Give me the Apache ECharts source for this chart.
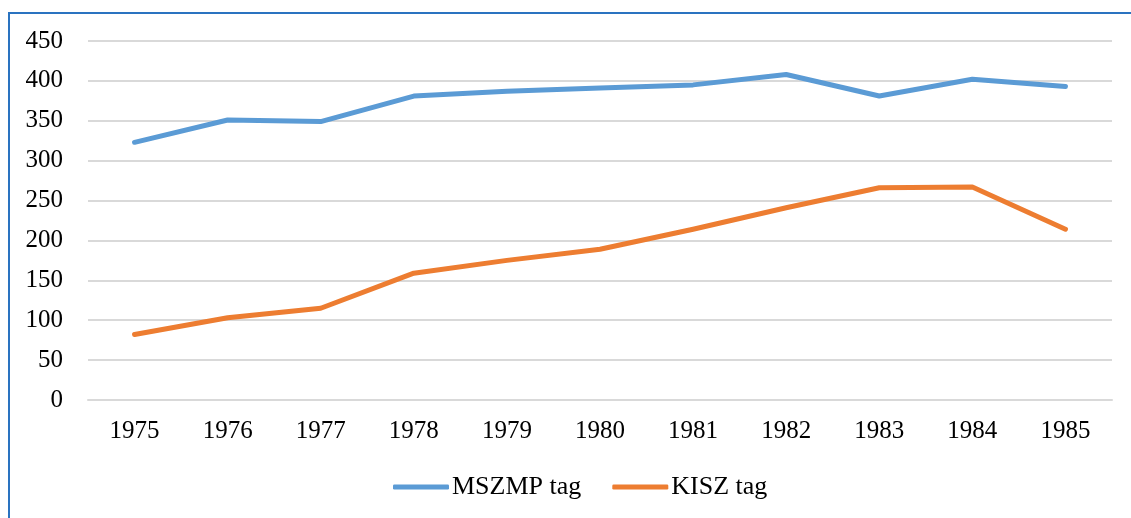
<!DOCTYPE html>
<html>
<head>
<meta charset="utf-8">
<script src="https://cdn.jsdelivr.net/npm/echarts@6/dist/echarts.min.js"></script>
<style>
    html, body { margin: 0; padding: 0; background: #fff; overflow: hidden; }
    #frame { position: absolute; left: 8px; top: 12px; width: 1200px; height: 600px;
             border-left: 2px solid #2a73c0; border-top: 2px solid #2a73c0; box-sizing: border-box; }
    #lineChart { position: absolute; left: 0; top: 0; width: 1131px; height: 518px; }
</style>
</head>
<body>
<div id="frame"></div>
<div id="lineChart"></div>
<script>
// évek
var years = ['1975', '1976', '1977', '1978', '1979', '1980', '1981', '1982', '1983', '1984', '1985'];
// MSZMP tag
var mszmpData = [323, 351, 349, 381, 387, 391, 395, 408, 381, 402, 393];
// KISZ tag
var kiszData = [82, 103, 115, 159, 175, 189, 214, 241, 266, 267, 214];
var legendList = ['MSZMP tag', 'KISZ tag'];
var colorList = ['#5b9bd5', '#ed7d31'];

var chartDom = document.getElementById('lineChart');
var lineChart = echarts.init(chartDom);
var font = '"Liberation Serif", "Times New Roman", serif';

function makeLine(name, data) {
    return {
        name: name,
        type: 'line',
        symbol: 'none',
        lineStyle: { width: 5, cap: 'round', join: 'round' },
        data: data
    };
}

var option = {
    animation: false,
    color: colorList,
    grid: { left: 88, right: 19, top: 41, bottom: 118 },
    legend: {
        data: legendList,
        left: 388,
        top: 469,
        icon: 'roundRect',
        itemWidth: 56,
        itemHeight: 5,
        itemGap: 31,
        textStyle: { fontFamily: font, fontSize: 26, color: '#000', padding: [0, 0, 0, -2] }
    },
    xAxis: {
        type: 'category',
        boundaryGap: true,
        data: years,
        axisLine: { lineStyle: { color: '#d9d9d9', width: 2 } },
        axisTick: { show: false },
        axisLabel: { fontFamily: font, fontSize: 25, color: '#000', margin: 19 }
    },
    yAxis: {
        type: 'value',
        min: 0,
        max: 450,
        interval: 50,
        axisLine: { show: false },
        axisTick: { show: false },
        splitLine: { lineStyle: { color: '#d9d9d9', width: 2 } },
        axisLabel: { fontFamily: font, fontSize: 25, color: '#000', margin: 25 }
    },
    series: [
        makeLine('MSZMP tag', mszmpData),
        makeLine('KISZ tag', kiszData)
    ]
};
lineChart.setOption(option);
</script>
</body>
</html>
